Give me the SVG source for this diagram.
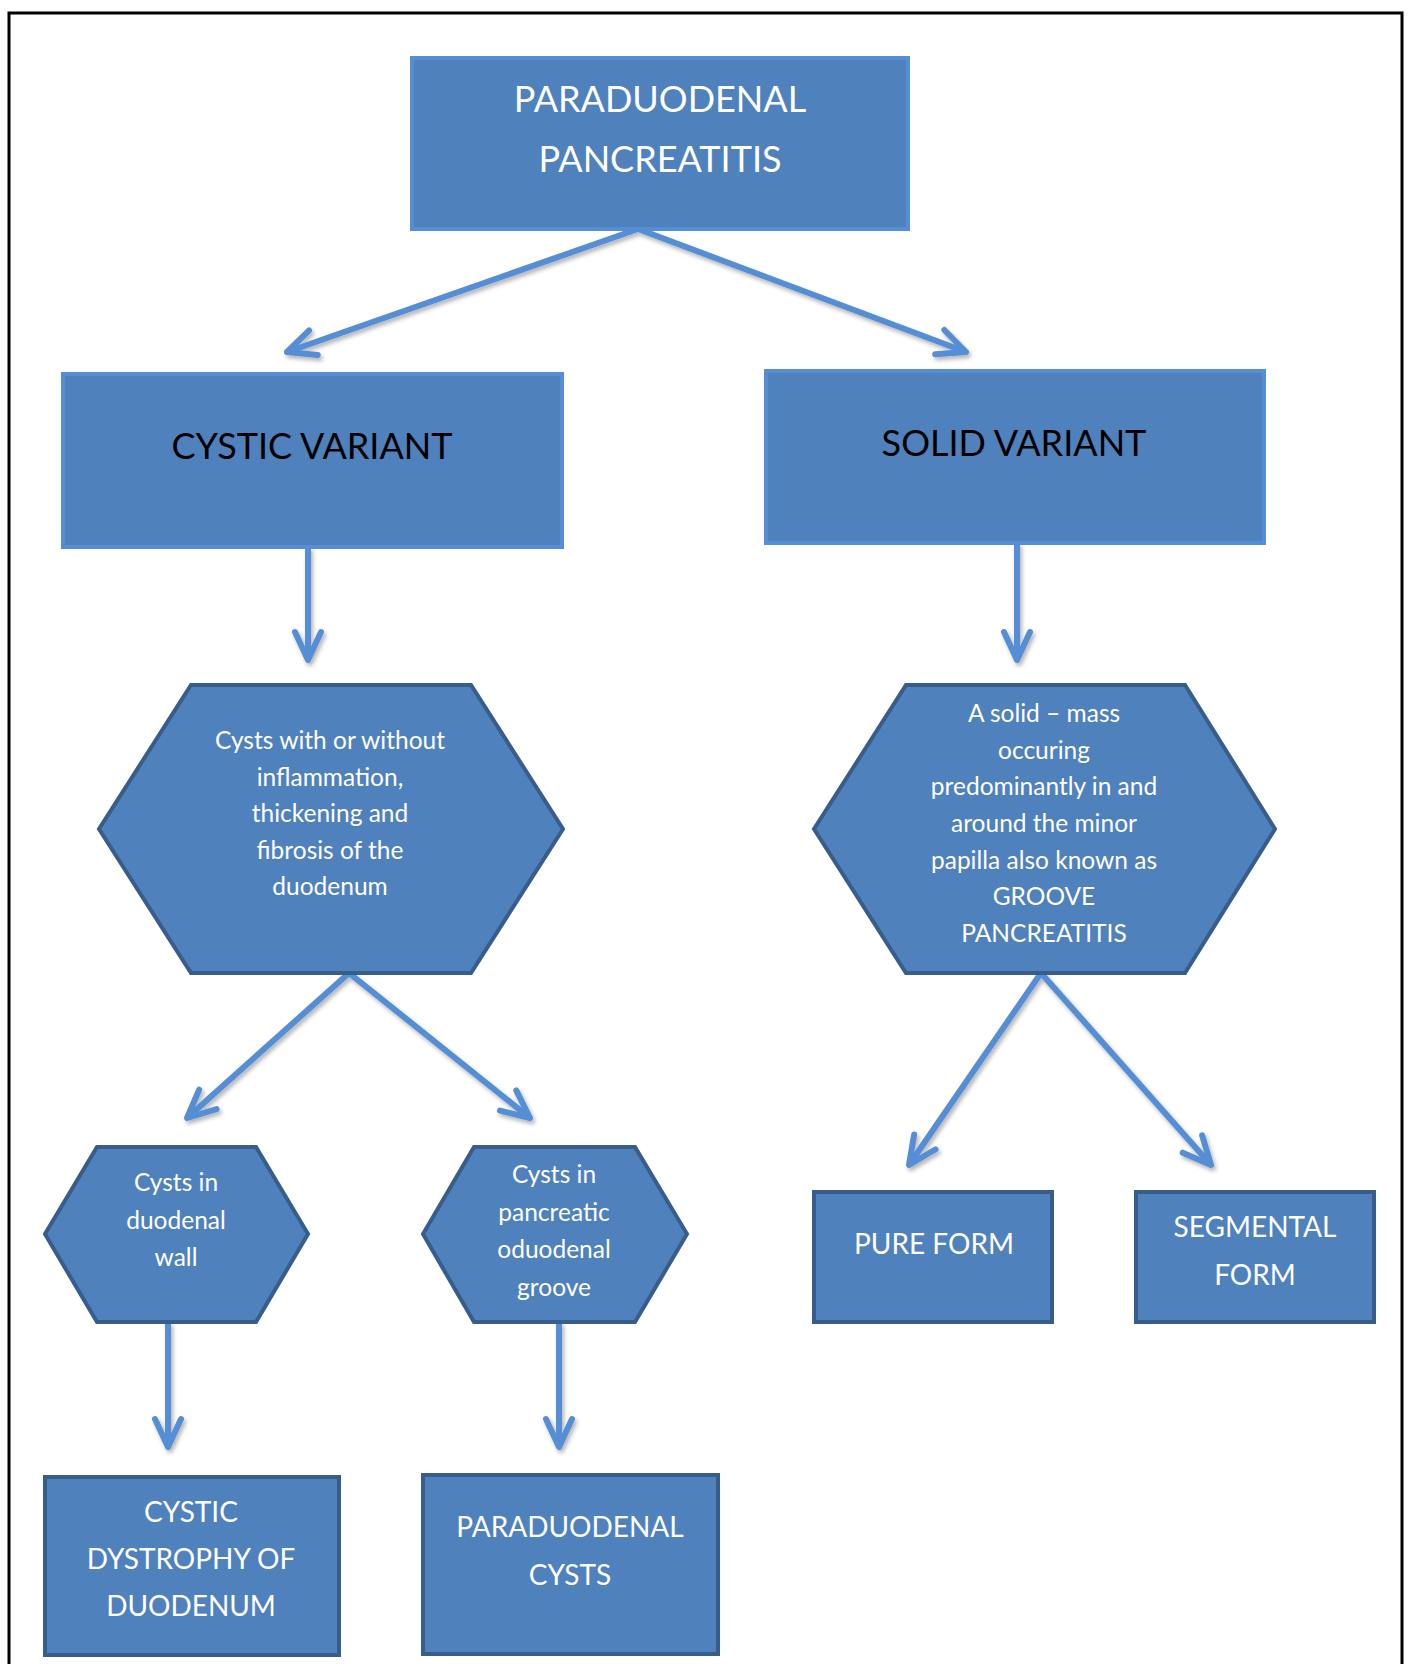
<svg xmlns="http://www.w3.org/2000/svg" width="1410" height="1664" viewBox="0 0 1410 1664">
<defs>
<style>
.box{fill:#4F81BD;}
.top{stroke:#558ED5;stroke-width:4;}
.low{stroke:#385D8A;stroke-width:4;stroke-linejoin:miter;}
.t{font-family:Lato,"Liberation Sans",sans-serif;text-anchor:middle;fill:#FFFFFF;}
.big{font-size:36px;}
.dark{fill:#000000;}
.hx{font-size:24.5px;}
.bx{font-size:28px;}
.conn line{stroke:#558ED5;stroke-width:6;fill:none;marker-end:url(#ah);}
</style>
<marker id="ah" markerUnits="userSpaceOnUse" orient="auto" viewBox="-40 -25 50 50" refX="0" refY="0" markerWidth="50" markerHeight="50" overflow="visible">
<path d="M -28,-13 L 0,0 L -28,13" fill="none" stroke="#558ED5" stroke-width="6" stroke-linecap="round" stroke-linejoin="round"/>
</marker>
<filter id="sh" x="-20%" y="-20%" width="140%" height="140%">
<feDropShadow dx="2" dy="3" stdDeviation="2" flood-color="#000" flood-opacity="0.3"/>
</filter>
</defs>
<rect width="1410" height="1664" fill="#FFFFFF"/>
<path d="M 9,1670 L 9,13 L 1402,13 L 1402,1670" fill="none" stroke="#000" stroke-width="3"/>

<g id="connectors" class="conn" filter="url(#sh)">
<line x1="638" y1="229" x2="287" y2="352"/>
<line x1="638" y1="229" x2="966" y2="352"/>
<line x1="308" y1="547" x2="308" y2="660"/>
<line x1="1017" y1="543" x2="1017" y2="660"/>
<line x1="349" y1="973" x2="187" y2="1118"/>
<line x1="349" y1="973" x2="530" y2="1118"/>
<line x1="1041" y1="973" x2="909" y2="1165"/>
<line x1="1041" y1="973" x2="1211" y2="1165"/>
<line x1="168" y1="1322" x2="168" y2="1447"/>
<line x1="559" y1="1322" x2="559" y2="1447"/>
</g>

<g id="paraduodenal-pancreatitis">
<rect class="box top" x="412" y="58" width="496" height="171"/>
<text class="t big" x="660" y="112">PARADUODENAL</text>
<text class="t big" x="660" y="172">PANCREATITIS</text>
</g>

<g id="cystic-variant">
<rect class="box top" x="63" y="374" width="499" height="173"/>
<text class="t big dark" x="312" y="459">CYSTIC VARIANT</text>
</g>

<g id="solid-variant">
<rect class="box top" x="766" y="371" width="498" height="172"/>
<text class="t big dark" x="1014" y="456">SOLID VARIANT</text>
</g>

<g id="cysts-hex">
<polygon class="box low" points="191,685 471,685 563,829 471,973 191,973 99,829"/>
<text class="t hx" x="330" y="749">Cysts with or without</text>
<text class="t hx" x="330" y="785.5">inflammation,</text>
<text class="t hx" x="330" y="822">thickening and</text>
<text class="t hx" x="330" y="858.5">fibrosis of the</text>
<text class="t hx" x="330" y="895">duodenum</text>
</g>

<g id="solid-hex">
<polygon class="box low" points="906,685 1185,685 1275,829 1185,973 906,973 814,829"/>
<text class="t hx" x="1044" y="722">A solid – mass</text>
<text class="t hx" x="1044" y="759">occuring</text>
<text class="t hx" x="1044" y="795">predominantly in and</text>
<text class="t hx" x="1044" y="832">around the minor</text>
<text class="t hx" x="1044" y="869">papilla also known as</text>
<text class="t hx" x="1044" y="905">GROOVE</text>
<text class="t hx" x="1044" y="942">PANCREATITIS</text>
</g>

<g id="duodenal-wall-hex">
<polygon class="box low" points="97,1147 256,1147 308,1234 256,1322 97,1322 45,1234"/>
<text class="t hx" x="176" y="1191">Cysts in</text>
<text class="t hx" x="176" y="1229">duodenal</text>
<text class="t hx" x="176" y="1266">wall</text>
</g>

<g id="groove-hex">
<polygon class="box low" points="474,1147 635,1147 687,1234 635,1322 474,1322 423,1234"/>
<text class="t hx" x="554" y="1183">Cysts in</text>
<text class="t hx" x="554" y="1220.5">pancreatic</text>
<text class="t hx" x="554" y="1258">oduodenal</text>
<text class="t hx" x="554" y="1295.5">groove</text>
</g>

<g id="cystic-dystrophy">
<rect class="box low" x="45" y="1477" width="294" height="178"/>
<text class="t bx" x="191" y="1521.5">CYSTIC</text>
<text class="t bx" x="191" y="1569">DYSTROPHY OF</text>
<text class="t bx" x="191" y="1616">DUODENUM</text>
</g>

<g id="paraduodenal-cysts">
<rect class="box low" x="423" y="1475" width="295" height="179"/>
<text class="t bx" x="570" y="1537">PARADUODENAL</text>
<text class="t bx" x="570" y="1585">CYSTS</text>
</g>

<g id="pure-form">
<rect class="box low" x="814" y="1192" width="238" height="130"/>
<text class="t bx" x="934" y="1254">PURE FORM</text>
</g>

<g id="segmental-form">
<rect class="box low" x="1136" y="1192" width="238" height="130"/>
<text class="t bx" x="1255" y="1237">SEGMENTAL</text>
<text class="t bx" x="1255" y="1285">FORM</text>
</g>
</svg>
